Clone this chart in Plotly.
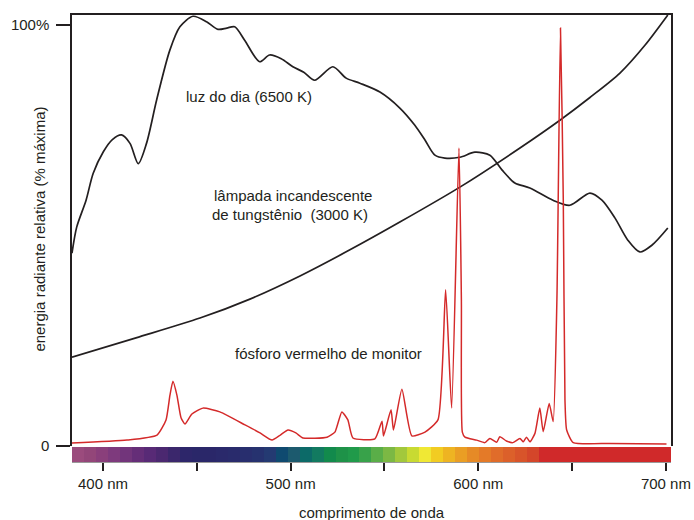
import plotly.graph_objects as go

# ---------------- data ----------------
# daylight (6500 K) relative spectral power, % of max
day_nm = [383.5, 386.0, 391.0, 394.8, 400.2, 405.0, 409.9, 414.4, 418.8, 423.2, 428.6, 435.6,
          441.0, 448.0, 455.2, 461.3, 466.0, 470.2, 475.5, 483.5, 488.8, 495.0, 501.2, 507.0,
          512.8, 522.5, 529.6, 536.9, 547.6, 558.2, 566.2, 571.6, 576.9, 582.2, 590.2, 598.2,
          606.2, 612.6, 619.5, 627.5, 639.8, 648.8, 659.5, 665.9, 672.8, 679.7, 686.1, 692.5, 701.0]
day_pct = [45.8, 52.0, 58.4, 64.8, 69.9, 72.8, 73.9, 71.9, 67.1, 71.9, 82.2, 94.0,
           99.6, 102.1, 100.8, 99.0, 99.3, 99.6, 96.4, 91.3, 92.9, 92.0, 90.1, 88.8,
           86.9, 90.1, 87.4, 86.2, 84.1, 80.3, 76.2, 72.7, 69.1, 68.4, 68.6, 69.8,
           69.1, 65.6, 62.5, 61.3, 58.4, 57.2, 60.1, 58.4, 54.2, 48.9, 46.1, 47.7, 51.8]

# incandescent tungsten lamp (3000 K)
inc_nm = [383.5, 417.6, 451.7, 478.3, 505.0, 531.6, 558.2, 590.2, 622.2, 643.5, 659.5, 675.5, 688.8, 701.0]
inc_pct = [21.1, 25.7, 30.4, 34.9, 40.4, 46.6, 53.2, 61.5, 70.8, 77.4, 82.8, 88.6, 95.2, 102.4]

# red monitor phosphor
red_nm = [383.5, 412.8, 428.8, 433.6, 435.7, 437.3, 439.4, 441.6, 443.7, 447.4, 453.3, 462.3,
          475.7, 483.7, 490.1, 494.5, 498.6, 502.8, 506.6, 519.4, 523.6, 527.3, 530.5, 533.2,
          544.9, 548.7, 549.5, 553.5, 554.8, 559.3, 564.6, 571.6, 578.5, 582.6, 585.8, 589.7,
          591.0, 591.5, 592.9, 599.1, 603.5, 606.2, 609.8, 611.5, 615.0, 618.4, 622.2, 624.0,
          625.7, 627.5, 630.2, 632.8, 634.6, 637.8, 639.9, 641.9, 643.8, 645.3, 646.2, 647.1,
          650.6, 670.0, 700.3]
red_pct = [0.7, 1.4, 2.6, 6.2, 12.1, 15.4, 12.1, 6.7, 5.2, 7.6, 9.0, 8.1,
           5.0, 3.1, 1.4, 2.6, 3.8, 3.1, 1.9, 2.1, 3.3, 8.1, 6.2, 1.9,
           1.7, 5.9, 2.4, 8.6, 3.8, 13.5, 2.4, 3.3, 6.2, 37.1, 9.0, 70.8,
           34.7, 3.3, 2.1, 1.4, 0.8, 1.8, 0.9, 2.2, 1.2, 0.8, 1.8, 1.0,
           2.1, 1.0, 3.0, 9.0, 3.4, 10.1, 5.8, 34.7, 99.3, 58.4, 10.9, 3.8,
           0.8, 0.6, 0.5]

# visible spectrum strip (equal wavelength bins)
spectrum_start_nm = 383.5
spectrum_bin_nm = 6.383
spectrum_colors = [
    "#9b4b7d", "#934679", "#8a3f7b", "#7e3a7d", "#72357b", "#652e78", "#582a76", "#4b2870",
    "#3b276c", "#2d266a", "#2a2769", "#2a2769", "#2a296b", "#292b6c", "#282e6e", "#26326f",
    "#243a72", "#0f4a70", "#1c5a6e", "#0c6a68", "#127a60", "#128a4c", "#1e9248", "#209a4a",
    "#38a24a", "#5aae48", "#7cb844", "#a2c83c", "#c8da32", "#f0e834", "#f2cc22", "#eeb422",
    "#ea9e24", "#e68a26", "#e47a28", "#e06c2a", "#dc602a", "#d8542a", "#d4462a",
] + ["#d0292a"] * 11

x_tick_vals = [400, 450, 500, 550, 600, 650, 700]
x_tick_text = ["400 nm", "", "500 nm", "", "600 nm", "", "700 nm"]
y_tick_vals = [0, 100]
y_tick_text = ["0", "100%"]

labels = [
    ("luz do dia (6500 K)", 477.8, 83.1),
    ("lâmpada incandescente", 501.2, 59.6),
    ("de tungstênio\u00a0 (3000 K)", 499.6, 54.9),
    ("fósforo vermelho de monitor", 520.4, 21.9),
]

# ---------------- figure ----------------
INK = "#231f20"
FONT = "Liberation Sans, Arial, sans-serif"
x_range = [383.5, 702.7]

fig = go.Figure()

fig.add_trace(go.Scatter(x=day_nm, y=day_pct, mode="lines",
                         line=dict(color=INK, width=1.7, shape="spline", smoothing=0.8),
                         xaxis="x", yaxis="y", hoverinfo="skip"))
fig.add_trace(go.Scatter(x=inc_nm, y=inc_pct, mode="lines",
                         line=dict(color=INK, width=1.7, shape="spline", smoothing=0.8),
                         xaxis="x", yaxis="y", hoverinfo="skip"))
fig.add_trace(go.Scatter(x=red_nm, y=red_pct, mode="lines",
                         line=dict(color="#d42a2a", width=1.5, shape="spline", smoothing=0.5),
                         xaxis="x", yaxis="y", hoverinfo="skip"))

centers = [spectrum_start_nm + (i + 0.5) * spectrum_bin_nm for i in range(len(spectrum_colors))]
fig.add_trace(go.Bar(x=centers, y=[1] * len(centers), width=spectrum_bin_nm,
                     marker=dict(color=spectrum_colors, line=dict(width=0)),
                     xaxis="x2", yaxis="y2", hoverinfo="skip"))

for text, xv, yv in labels:
    fig.add_annotation(text=text, x=xv, y=yv, xref="x", yref="y", showarrow=False,
                       font=dict(family=FONT, size=15, color=INK))

fig.add_annotation(text="energia radiante relativa (% máxima)", textangle=-90,
                   x=-0.0534, y=0.52, xref="paper", yref="paper", showarrow=False,
                   xanchor="center", yanchor="middle",
                   font=dict(family=FONT, size=15, color=INK))
fig.add_annotation(text="comprimento de onda", x=0.5, y=-0.112,
                   xref="paper", yref="paper", showarrow=False,
                   xanchor="center", yanchor="middle",
                   font=dict(family=FONT, size=15, color=INK))

fig.update_layout(
    width=694, height=520,
    margin=dict(l=72, r=23, t=15, b=58, autoexpand=False),
    paper_bgcolor="white", plot_bgcolor="white",
    showlegend=False, bargap=0,
    font=dict(family=FONT, size=15, color=INK),
    xaxis=dict(domain=[0, 1], range=x_range, anchor="y", side="top", automargin=False,
               showline=True, linecolor=INK, linewidth=1.5,
               showticklabels=False, ticks="", showgrid=False, zeroline=False),
    yaxis=dict(domain=[0.0358, 1], range=[0, 102.4], anchor="x", automargin=False,
               showline=True, mirror=True, linecolor=INK, linewidth=1.5,
               ticks="outside", ticklen=14, tickwidth=2, tickcolor=INK,
               tickvals=y_tick_vals, ticktext=y_tick_text, ticklabelstandoff=4,
               showgrid=False, zeroline=False),
    xaxis2=dict(domain=[0, 1], range=x_range, anchor="y2", automargin=False,
                showline=True, linecolor="#9a9a9a", linewidth=1,
                ticks="outside", ticklen=8, tickwidth=2, tickcolor=INK,
                tickvals=x_tick_vals, ticktext=x_tick_text,
                showgrid=False, zeroline=False),
    yaxis2=dict(domain=[0, 0.0336], range=[0, 1], visible=False, anchor="x2",
                automargin=False),
)

fig.write_html("out.html", config={"displayModeBar": False},
               post_script="document.body.style.margin='0';document.body.style.padding='0';")
